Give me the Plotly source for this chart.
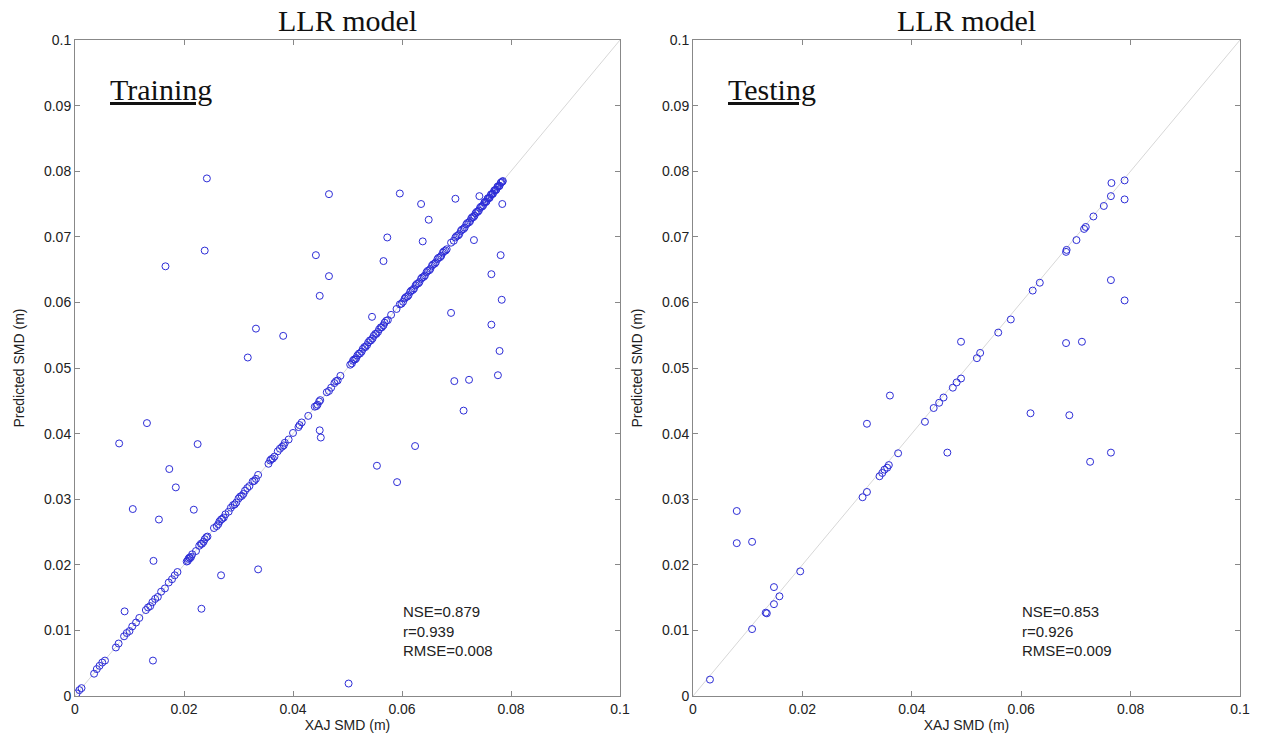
import plotly.graph_objects as go

# ---------------- data ----------------
# Training: points lying on / near the 1:1 line
train_line_x = [0.0003, 0.0008, 0.0012, 0.0035, 0.0040, 0.0045, 0.0050, 0.0055, 0.0075, 0.0080,
                0.0090, 0.0095, 0.0100, 0.0105, 0.0112, 0.0118, 0.0130, 0.0134, 0.0138, 0.0142,
                0.0147, 0.0152, 0.0158, 0.0165, 0.0172, 0.0178, 0.0183, 0.0188, 0.0205, 0.0208,
                0.0211, 0.0215, 0.0222, 0.0228, 0.0233, 0.0238, 0.0243, 0.0255, 0.0260, 0.0265,
                0.0270, 0.0276, 0.0282, 0.0290, 0.0296, 0.0300, 0.0306, 0.0312, 0.0320, 0.0326,
                0.0332, 0.0336, 0.0355, 0.0360, 0.0366, 0.0372, 0.0380, 0.0385, 0.0392, 0.0400,
                0.0410, 0.0416, 0.0428, 0.0440, 0.0445, 0.0450, 0.0462, 0.0470, 0.0476, 0.0482,
                0.0487, 0.0505, 0.0510, 0.0514, 0.0518, 0.0523, 0.0528, 0.0533, 0.0538, 0.0543,
                0.0548, 0.0553, 0.0558, 0.0563, 0.0568, 0.0574, 0.0580, 0.0590, 0.0596, 0.0602,
                0.0607, 0.0612, 0.0617, 0.0622, 0.0627, 0.0632, 0.0637, 0.0642, 0.0647, 0.0652,
                0.0657, 0.0662, 0.0667, 0.0672, 0.0677, 0.0682, 0.0690, 0.0695, 0.0700, 0.0705,
                0.0710, 0.0715, 0.0720, 0.0725, 0.0729, 0.0733, 0.0737, 0.0741, 0.0745, 0.0749,
                0.0752, 0.0755, 0.0758, 0.0761, 0.0764, 0.0767, 0.0770, 0.0773, 0.0776, 0.0779,
                0.0782, 0.0785,
                0.0207, 0.0210, 0.0213, 0.0231, 0.0236, 0.0241, 0.0263, 0.0268, 0.0273, 0.0286,
                0.0293, 0.0303, 0.0309, 0.0316, 0.0329, 0.0358, 0.0363, 0.0376, 0.0383, 0.0412,
                0.0443, 0.0448, 0.0466, 0.0479, 0.0508, 0.0512, 0.0516, 0.0521, 0.0526, 0.0531,
                0.0536, 0.0541, 0.0546, 0.0551, 0.0556, 0.0561, 0.0566, 0.0571, 0.0599, 0.0605,
                0.0610, 0.0615, 0.0620, 0.0625, 0.0630, 0.0635, 0.0640, 0.0645, 0.0650, 0.0655,
                0.0660, 0.0665, 0.0670, 0.0675, 0.0680, 0.0698, 0.0703, 0.0708, 0.0713, 0.0718,
                0.0723, 0.0727, 0.0731, 0.0735, 0.0739, 0.0743, 0.0747, 0.0751, 0.0754, 0.0757,
                0.0760, 0.0763, 0.0766, 0.0769, 0.0772, 0.0775, 0.0778, 0.0781, 0.0784]
train_line_y = [0.0004, 0.0009, 0.0012, 0.0034, 0.0041, 0.0046, 0.0051, 0.0054, 0.0074, 0.0080,
                0.0091, 0.0096, 0.0099, 0.0106, 0.0112, 0.0119, 0.0131, 0.0135, 0.0137, 0.0143,
                0.0148, 0.0151, 0.0159, 0.0164, 0.0173, 0.0178, 0.0184, 0.0189, 0.0205, 0.0209,
                0.0210, 0.0216, 0.0221, 0.0229, 0.0232, 0.0239, 0.0243, 0.0256, 0.0259, 0.0266,
                0.0270, 0.0277, 0.0281, 0.0291, 0.0295, 0.0301, 0.0305, 0.0313, 0.0320, 0.0327,
                0.0331, 0.0337, 0.0354, 0.0361, 0.0365, 0.0373, 0.0380, 0.0386, 0.0391, 0.0401,
                0.0410, 0.0417, 0.0427, 0.0441, 0.0444, 0.0451, 0.0463, 0.0470, 0.0477, 0.0481,
                0.0488, 0.0505, 0.0511, 0.0513, 0.0519, 0.0522, 0.0529, 0.0532, 0.0539, 0.0542,
                0.0549, 0.0552, 0.0559, 0.0562, 0.0569, 0.0573, 0.0581, 0.0590, 0.0597, 0.0601,
                0.0608, 0.0611, 0.0618, 0.0621, 0.0628, 0.0631, 0.0638, 0.0641, 0.0648, 0.0651,
                0.0658, 0.0661, 0.0668, 0.0671, 0.0678, 0.0681, 0.0691, 0.0694, 0.0701, 0.0704,
                0.0711, 0.0714, 0.0721, 0.0724, 0.0730, 0.0732, 0.0738, 0.0740, 0.0746, 0.0748,
                0.0753, 0.0754, 0.0759, 0.0760, 0.0765, 0.0766, 0.0771, 0.0772, 0.0777, 0.0778,
                0.0783, 0.0785,
                0.0206, 0.0211, 0.0212, 0.0232, 0.0235, 0.0242, 0.0262, 0.0269, 0.0272, 0.0287,
                0.0292, 0.0304, 0.0308, 0.0317, 0.0328, 0.0359, 0.0362, 0.0377, 0.0382, 0.0413,
                0.0442, 0.0449, 0.0465, 0.0480, 0.0507, 0.0513, 0.0515, 0.0522, 0.0525, 0.0532,
                0.0535, 0.0542, 0.0545, 0.0552, 0.0555, 0.0562, 0.0565, 0.0572, 0.0598, 0.0606,
                0.0609, 0.0616, 0.0619, 0.0626, 0.0629, 0.0636, 0.0639, 0.0646, 0.0649, 0.0656,
                0.0659, 0.0666, 0.0669, 0.0676, 0.0679, 0.0699, 0.0702, 0.0709, 0.0712, 0.0719,
                0.0722, 0.0728, 0.0730, 0.0736, 0.0738, 0.0744, 0.0746, 0.0752, 0.0753, 0.0758,
                0.0759, 0.0764, 0.0765, 0.0770, 0.0771, 0.0776, 0.0777, 0.0782, 0.0784]

# Training: scattered points away from the 1:1 line
train_off_x = [0.0242, 0.0466, 0.0238, 0.0166, 0.0442, 0.0466, 0.0449, 0.0332, 0.0382, 0.0317,
               0.0132, 0.0081, 0.0225, 0.0449, 0.0451, 0.0596, 0.0635, 0.0698, 0.0742, 0.0784,
               0.0649, 0.0573, 0.0638, 0.0732, 0.0566, 0.0781, 0.0764, 0.0783, 0.0690, 0.0545,
               0.0764, 0.0779, 0.0776, 0.0696, 0.0723, 0.0713, 0.0624, 0.0554, 0.0591, 0.0502,
               0.0173, 0.0185, 0.0106, 0.0218, 0.0154, 0.0144, 0.0336, 0.0268, 0.0091, 0.0232,
               0.0143]
train_off_y = [0.0789, 0.0765, 0.0679, 0.0655, 0.0672, 0.0640, 0.0610, 0.0560, 0.0549, 0.0516,
               0.0416, 0.0385, 0.0384, 0.0405, 0.0394, 0.0766, 0.0750, 0.0758, 0.0762, 0.0750,
               0.0726, 0.0699, 0.0693, 0.0695, 0.0663, 0.0672, 0.0643, 0.0604, 0.0584, 0.0578,
               0.0566, 0.0526, 0.0489, 0.0480, 0.0482, 0.0435, 0.0381, 0.0351, 0.0326, 0.0019,
               0.0346, 0.0318, 0.0285, 0.0284, 0.0269, 0.0206, 0.0193, 0.0184, 0.0129, 0.0133,
               0.0054]

# Testing points
test_x = [0.0031, 0.0080, 0.0080, 0.0108, 0.0108, 0.0133, 0.0135, 0.0148, 0.0148, 0.0158,
          0.0196, 0.0310, 0.0318, 0.0318, 0.0341, 0.0346, 0.0350, 0.0355, 0.0358, 0.0360,
          0.0375, 0.0424, 0.0440, 0.0450, 0.0458, 0.0465, 0.0475, 0.0482, 0.0490, 0.0490,
          0.0519, 0.0525, 0.0558, 0.0581, 0.0617, 0.0621, 0.0634, 0.0682, 0.0683, 0.0682,
          0.0688, 0.0701, 0.0711, 0.0715, 0.0718, 0.0726, 0.0732, 0.0751, 0.0764, 0.0764,
          0.0764, 0.0765, 0.0789, 0.0789, 0.0789]
test_y = [0.0025, 0.0282, 0.0233, 0.0235, 0.0102, 0.0127, 0.0126, 0.0166, 0.0140, 0.0152,
          0.0190, 0.0303, 0.0311, 0.0415, 0.0335, 0.0340, 0.0345, 0.0348, 0.0352, 0.0458,
          0.0370, 0.0418, 0.0439, 0.0447, 0.0455, 0.0371, 0.0470, 0.0478, 0.0484, 0.0540,
          0.0515, 0.0523, 0.0554, 0.0574, 0.0431, 0.0618, 0.0630, 0.0538, 0.0680, 0.0677,
          0.0428, 0.0695, 0.0540, 0.0712, 0.0715, 0.0357, 0.0731, 0.0747, 0.0762, 0.0634,
          0.0371, 0.0782, 0.0786, 0.0757, 0.0603]

one_to_one = [0.0, 0.1]

tick_vals_x = [0, 0.02, 0.04, 0.06, 0.08, 0.1]
tick_text_x = ["0", "0.02", "0.04", "0.06", "0.08", "0.1"]
tick_vals_y = [0, 0.01, 0.02, 0.03, 0.04, 0.05, 0.06, 0.07, 0.08, 0.09, 0.1]
tick_text_y = ["0", "0.01", "0.02", "0.03", "0.04", "0.05", "0.06", "0.07", "0.08", "0.09", "0.1"]

panel_titles = ["LLR model", "LLR model"]
panel_labels = ["Training", "Testing"]
stats_text = ["NSE=0.879<br>r=0.939<br>RMSE=0.008", "NSE=0.853<br>r=0.926<br>RMSE=0.009"]

# ---------------- figure ----------------
W, H = 1263, 744
fig = go.Figure()

marker = dict(symbol="circle-open", size=7, color="rgb(45,45,215)", line=dict(width=1))
line_style = dict(color="rgb(215,215,215)", width=1)

# left panel
fig.add_trace(go.Scatter(x=one_to_one, y=one_to_one, mode="lines", line=line_style,
                         xaxis="x", yaxis="y", hoverinfo="skip"))
fig.add_trace(go.Scatter(x=train_line_x + train_off_x, y=train_line_y + train_off_y,
                         mode="markers", marker=marker, xaxis="x", yaxis="y"))
# right panel
fig.add_trace(go.Scatter(x=one_to_one, y=one_to_one, mode="lines", line=line_style,
                         xaxis="x2", yaxis="y2", hoverinfo="skip"))
fig.add_trace(go.Scatter(x=test_x, y=test_y, mode="markers", marker=marker,
                         xaxis="x2", yaxis="y2"))

tick_font = dict(family="Liberation Sans, Arial", size=14, color="#222")
title_font = dict(family="Liberation Sans, Arial", size=14, color="#222")

def xaxis(domain, anchor):
    return dict(domain=domain, anchor=anchor, range=[0, 0.1], tickvals=tick_vals_x,
                ticktext=tick_text_x, ticks="inside", ticklen=5, tickcolor="#888",
                showline=True, linecolor="#888", linewidth=1, mirror="ticks",
                showgrid=False, zeroline=False, tickfont=tick_font, automargin=False,
                title=dict(text="XAJ SMD (m)", font=title_font, standoff=1))

def yaxis(domain, anchor):
    return dict(domain=domain, anchor=anchor, range=[0, 0.1], tickvals=tick_vals_y,
                ticktext=tick_text_y, ticks="inside", ticklen=5, tickcolor="#888",
                showline=True, linecolor="#888", linewidth=1, mirror="ticks",
                showgrid=False, zeroline=False, tickfont=tick_font, automargin=False,
                title=dict(text="Predicted SMD (m)", font=title_font, standoff=16))

yd = [1 - 696 / H, 1 - 40 / H]
fig.update_layout(
    width=W, height=H, margin=dict(l=0, r=0, t=0, b=0),
    paper_bgcolor="white", plot_bgcolor="white", showlegend=False,
    xaxis=xaxis([75 / W, 620 / W], "y"),
    yaxis=yaxis(yd, "x"),
    xaxis2=xaxis([693 / W, 1240 / W], "y2"),
    yaxis2=yaxis(yd, "x2"),
)

serif = "Liberation Serif, Times New Roman, serif"
for i, (xr, yr) in enumerate([("x", "y"), ("x2", "y2")]):
    fig.add_annotation(text=panel_titles[i], xref=xr + " domain", yref="paper",
                       x=0.5, y=1 - 21 / H, showarrow=False, yanchor="middle",
                       font=dict(family=serif, size=30, color="#111"))
    fig.add_annotation(text="<u>" + panel_labels[i] + "</u>", xref=xr + " domain",
                       yref=yr + " domain", x=0.06, y=0.925, xanchor="left",
                       yanchor="middle", showarrow=False,
                       font=dict(family=serif, size=30, color="#111"))
    fig.add_annotation(text=stats_text[i], xref=xr, yref=yr, x=0.0598, y=0.0053,
                       xanchor="left", yanchor="bottom", align="left", showarrow=False,
                       font=dict(family="Liberation Sans, Arial", size=15, color="#222"))

fig.write_html("out.html")
